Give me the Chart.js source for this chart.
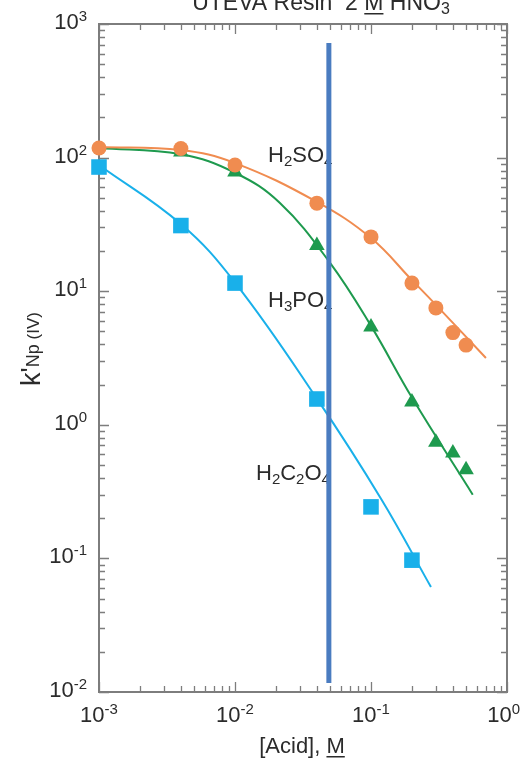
<!DOCTYPE html>
<html>
<head>
<meta charset="utf-8">
<script src="https://cdn.jsdelivr.net/npm/chart.js@4.4.0/dist/chart.umd.min.js"></script>
<style>
  html, body { margin: 0; padding: 0; background: #fff; }
  canvas { display: block; }
</style>
</head>
<body>
<canvas id="myChart" width="526" height="761"></canvas>
<script>
// measured points
const acid = [0.001, 0.004, 0.01, 0.04, 0.1, 0.2, 0.3, 0.4, 0.5];
const h2so4 = [118, 117, 88, 45.6, 25.5, 11.5, 7.5, 4.9, 3.95];
const acidP = [0.004, 0.01, 0.04, 0.1, 0.2, 0.3, 0.4, 0.5];
const h3po4 = [110, 78, 22, 5.4, 1.48, 0.74, 0.615, 0.46];
const acidOx = [0.001, 0.004, 0.01, 0.04, 0.1, 0.2];
const h2c2o4 = [85, 31, 11.5, 1.56, 0.243, 0.097];

// fitted curves
const fitSX = [0.001, 0.004, 0.01, 0.04, 0.1, 0.2, 0.3, 0.7];
const fitSY = [120, 114, 91, 46.6, 25, 12.1, 7.9, 3.16];
const fitPX = [0.001, 0.004, 0.01, 0.0214, 0.05, 0.1, 0.2, 0.56];
const fitPY = [118, 106, 77, 45.7, 16.3, 5.5, 1.6, 0.3];
const fitOX = [0.001, 0.004, 0.01, 0.04, 0.12, 0.276];
const fitOY = [88, 31.8, 11.6, 1.57, 0.274, 0.061];

// reference line
const refX = [0.049, 0.049];
const refY = [0.0117, 720];

const xTicks = [0.001, 0.01, 0.1, 1];
const xTickExp = ["-3", "-2", "-1", "0"];
const yTicks = [1000, 100, 10, 1, 0.1, 0.01];
const yTickExp = ["3", "2", "1", "0", "-1", "-2"];

const ORANGE = "#f08c50";
const GREEN = "#1e9a4e";
const BLUE = "#19b0ea";
const FONT = "'Liberation Sans', Arial, sans-serif";
const INK = "#2b2b2b";

const pts = (xs, ys) => xs.map((x, i) => ({ x: x, y: ys[i] }));

function richWidth(ctx, parts) {
  let w = 0;
  parts.forEach(p => {
    ctx.font = p.s + "px " + FONT;
    w += ctx.measureText(p.t).width;
  });
  return w;
}

function drawRich(ctx, x, y, parts, align) {
  const w = richWidth(ctx, parts);
  let cx = x;
  if (align === "center") cx = x - w / 2;
  if (align === "right") cx = x - w;
  ctx.textBaseline = "alphabetic";
  ctx.textAlign = "left";
  parts.forEach(p => {
    ctx.font = p.s + "px " + FONT;
    const tw = ctx.measureText(p.t).width;
    ctx.fillText(p.t, cx, y + (p.dy || 0));
    if (p.u) {
      ctx.fillRect(cx, y + 3, tw, 1.5);
    }
    cx += tw;
  });
  return w;
}

const framePlugin = {
  id: "frame",
  beforeDatasetsDraw(chart) {
    const ctx = chart.ctx;
    const a = chart.chartArea;
    const xs = chart.scales.x;
    const ys = chart.scales.y;
    ctx.save();
    ctx.strokeStyle = "#7d7d7d";
    ctx.lineWidth = 2;
    ctx.strokeRect(a.left, a.top, a.right - a.left, a.bottom - a.top);

    ctx.lineWidth = 1.3;
    ctx.beginPath();
    // x ticks
    for (let e = -3; e < 0; e++) {
      for (let m = 1; m <= 10; m++) {
        const v = m * Math.pow(10, e);
        const px = Math.round(xs.getPixelForValue(v)) + 0.5;
        const len = (m === 1 || m === 10) ? 10 : 6;
        ctx.moveTo(px, a.bottom); ctx.lineTo(px, a.bottom - len);
        ctx.moveTo(px, a.top); ctx.lineTo(px, a.top + len);
      }
    }
    // y ticks
    for (let e = -2; e < 3; e++) {
      for (let m = 1; m <= 10; m++) {
        const v = m * Math.pow(10, e);
        const py = Math.round(ys.getPixelForValue(v)) + 0.5;
        const len = (m === 1 || m === 10) ? 10 : 6;
        ctx.moveTo(a.left, py); ctx.lineTo(a.left + len, py);
        ctx.moveTo(a.right, py); ctx.lineTo(a.right - len, py);
      }
    }
    ctx.stroke();

    ctx.fillStyle = INK;
    // tick labels
    xTicks.forEach((v, i) => {
      const parts = [{ t: "10", s: 22 }, { t: xTickExp[i], s: 15, dy: -8 }];
      let px = xs.getPixelForValue(v);
      const w = richWidth(ctx, parts);
      if (px + w / 2 > 520) px = 520 - w / 2;
      drawRich(ctx, px, a.bottom + 30, parts, "center");
    });
    yTicks.forEach((v, i) => {
      const py = ys.getPixelForValue(v);
      drawRich(ctx, 87, py + 5, [{ t: "10", s: 22 }, { t: yTickExp[i], s: 15, dy: -8 }], "right");
    });

    // curve labels
    drawRich(ctx, 268, 162, [{ t: "H", s: 22 }, { t: "2", s: 15, dy: 4 }, { t: "SO", s: 22 }, { t: "4", s: 15, dy: 4 }], "left");
    drawRich(ctx, 268, 307, [{ t: "H", s: 22 }, { t: "3", s: 15, dy: 4 }, { t: "PO", s: 22 }, { t: "4", s: 15, dy: 4 }], "left");
    drawRich(ctx, 256, 480, [{ t: "H", s: 22 }, { t: "2", s: 15, dy: 4 }, { t: "C", s: 22 }, { t: "2", s: 15, dy: 4 }, { t: "O", s: 22 }, { t: "4", s: 15, dy: 4 }], "left");

    // title (cut at the top edge)
    drawRich(ctx, 321, 10, [{ t: "UTEVA Resin  2 ", s: 23 }, { t: "M", s: 23, u: true }, { t: " HNO", s: 23 }, { t: "3", s: 16, dy: 4 }], "center");

    // axis titles
    drawRich(ctx, 302, 753, [{ t: "[Acid], ", s: 22 }, { t: "M", s: 22, u: true }], "center");
    ctx.save();
    ctx.translate(40, 349);
    ctx.rotate(-Math.PI / 2);
    drawRich(ctx, 0, 0, [{ t: "k'", s: 27 }, { t: "Np", s: 18, dy: -1 }, { t: " (IV)", s: 17, dy: -1 }], "center");
    ctx.restore();

    ctx.restore();
  }
};

const ctx = document.getElementById("myChart").getContext("2d");

new Chart(ctx, {
  type: "scatter",
  data: {
    datasets: [
      {
        data: pts(refX, refY),
        showLine: true,
        borderColor: "#4a7cc0",
        borderWidth: 5,
        pointRadius: 0,
        order: 0,
      },
      {
        data: pts(acid, h2so4),
        pointStyle: "circle",
        pointRadius: 7.5,
        backgroundColor: ORANGE,
        borderWidth: 0,
        clip: false,
        order: 1,
      },
      {
        data: pts(acidP, h3po4),
        pointStyle: "triangle",
        pointRadius: 9,
        backgroundColor: GREEN,
        borderWidth: 0,
        clip: false,
        order: 1,
      },
      {
        data: pts(acidOx, h2c2o4),
        pointStyle: "rect",
        pointRadius: 11,
        backgroundColor: BLUE,
        borderWidth: 0,
        clip: false,
        order: 1,
      },
      {
        data: pts(fitSX, fitSY),
        showLine: true,
        borderColor: ORANGE,
        borderWidth: 2,
        pointRadius: 0,
        tension: 0.4,
        order: 2,
      },
      {
        data: pts(fitPX, fitPY),
        showLine: true,
        borderColor: GREEN,
        borderWidth: 2,
        pointRadius: 0,
        tension: 0.4,
        order: 2,
      },
      {
        data: pts(fitOX, fitOY),
        showLine: true,
        borderColor: BLUE,
        borderWidth: 2,
        pointRadius: 0,
        tension: 0.4,
        order: 2,
      },
    ],
  },
  options: {
    responsive: false,
    animation: false,
    layout: { padding: { left: 99, right: 19, top: 24, bottom: 69 } },
    plugins: { legend: { display: false }, tooltip: { enabled: false } },
    scales: {
      x: { type: "logarithmic", min: 0.001, max: 1, display: false },
      y: { type: "logarithmic", min: 0.01, max: 1000, display: false },
    },
  },
  plugins: [framePlugin],
});
</script>
</body>
</html>
